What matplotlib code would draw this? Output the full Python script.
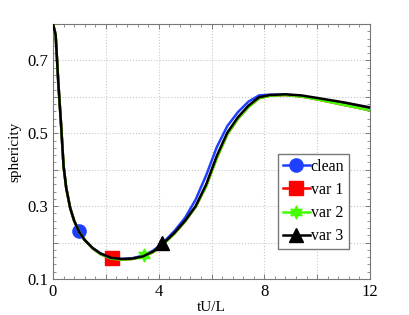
import numpy as np
import matplotlib
matplotlib.use("Agg")
import matplotlib.pyplot as plt
from matplotlib.ticker import MultipleLocator, FuncFormatter

plt.rcParams['font.family'] = ['Liberation Serif', 'DejaVu Serif']

# time axis (tU/L)
t = [0, 0.1, 0.2, 0.3, 0.4, 0.5, 0.65, 0.8, 1.0, 1.2, 1.5, 1.8, 2.2, 2.6,
     3.0, 3.4, 3.8, 4.2, 4.6, 5.0, 5.4, 5.8, 6.2, 6.6, 7.0, 7.4, 7.8, 8.2,
     8.8, 9.4, 10.0, 11.0, 12.0]

# sphericity for each case
s_clean = [0.80, 0.77, 0.64, 0.53, 0.41, 0.35, 0.295, 0.26, 0.228, 0.207,
           0.185, 0.170, 0.158, 0.155, 0.157, 0.164, 0.178, 0.202, 0.232,
           0.268, 0.318, 0.385, 0.462, 0.520, 0.558, 0.587, 0.604, 0.606,
           0.606, 0.602, 0.594, 0.580, 0.565]
s_var1 = [0.80, 0.77, 0.64, 0.53, 0.41, 0.35, 0.295, 0.26, 0.228, 0.207,
          0.184, 0.168, 0.156, 0.153, 0.155, 0.161, 0.174, 0.197, 0.225,
          0.258, 0.298, 0.355, 0.432, 0.497, 0.540, 0.572, 0.596, 0.603,
          0.605, 0.601, 0.593, 0.578, 0.563]
s_var2 = [0.80, 0.77, 0.64, 0.53, 0.41, 0.35, 0.295, 0.26, 0.228, 0.207,
          0.184, 0.168, 0.156, 0.153, 0.155, 0.161, 0.174, 0.197, 0.225,
          0.258, 0.298, 0.355, 0.432, 0.497, 0.540, 0.572, 0.596, 0.603,
          0.605, 0.601, 0.593, 0.578, 0.563]
s_var3 = [0.80, 0.77, 0.64, 0.53, 0.41, 0.35, 0.295, 0.26, 0.228, 0.207,
          0.185, 0.170, 0.158, 0.155, 0.156, 0.162, 0.176, 0.199, 0.227,
          0.260, 0.300, 0.360, 0.438, 0.502, 0.544, 0.576, 0.599, 0.605,
          0.607, 0.604, 0.597, 0.585, 0.571]

# single marker position per case
mk_t = [0.98, 2.22, 3.45, 4.14]
mk_s = [0.233, 0.158, 0.166, 0.198]

labels = ["clean", "var 1", "var 2", "var 3"]
colors = ["#1f3fff", "#ff0000", "#44ff00", "#000000"]
markers = ["o", "s", (6, 1, 0), "^"]
series = [s_clean, s_var1, s_var2, s_var3]

# labelled ticks
x_labels = [0, 4, 8, 12]
y_labels = [0.1, 0.3, 0.5, 0.7]

fig = plt.figure(figsize=(4.09, 3.15), dpi=100)
ax = fig.add_axes([53 / 409, 36 / 315, 317 / 409, 255 / 315])

for i in range(4):
    ax.plot(t, series[i], color=colors[i], lw=1.8, zorder=2 + i)
    ax.plot(mk_t[i], mk_s[i], linestyle='none', marker=markers[i],
            color=colors[i], markersize=9.5, zorder=2 + i)
    # legend proxy
    ax.plot([], [], color=colors[i], lw=1.8, marker=markers[i],
            markersize=9.5, label=labels[i])

ax.set_xlim(0, 12)
ax.set_ylim(0.1, 0.8)
ax.xaxis.set_major_locator(MultipleLocator(2))
ax.yaxis.set_major_locator(MultipleLocator(0.1))
ax.xaxis.set_minor_locator(MultipleLocator(0.4))
ax.yaxis.set_minor_locator(MultipleLocator(0.02))
ax.xaxis.set_major_formatter(FuncFormatter(
    lambda v, p: f"{v:g}" if any(abs(v - k) < 1e-6 for k in x_labels) else ""))
ax.yaxis.set_major_formatter(FuncFormatter(
    lambda v, p: f"{v:.1f}" if any(abs(v - k) < 1e-6 for k in y_labels) else ""))
ax.grid(True, which='major', linestyle=':', color='#c8c8c8', lw=0.8)
ax.tick_params(which='both', direction='in', top=True, right=True,
               colors='#666666', labelcolor='black', labelsize=12)
ax.tick_params(which='major', length=3.5, width=0.6)
ax.tick_params(which='minor', length=2, width=0.5)
for sp in ax.spines.values():
    sp.set_color('#777777')
    sp.set_linewidth(0.8)

ax.set_xlabel("tU/L", fontsize=11, labelpad=1)
ax.set_ylabel("sphericity", fontsize=11, labelpad=4)

leg = ax.legend(loc='upper left', bbox_to_anchor=(0.71, 0.49), fontsize=11.5,
                fancybox=False, framealpha=1, edgecolor='#777777',
                handlelength=1.7, handletextpad=0.05, borderpad=0.3,
                labelspacing=0.45, borderaxespad=0)

fig.savefig("out.png", dpi=100)
